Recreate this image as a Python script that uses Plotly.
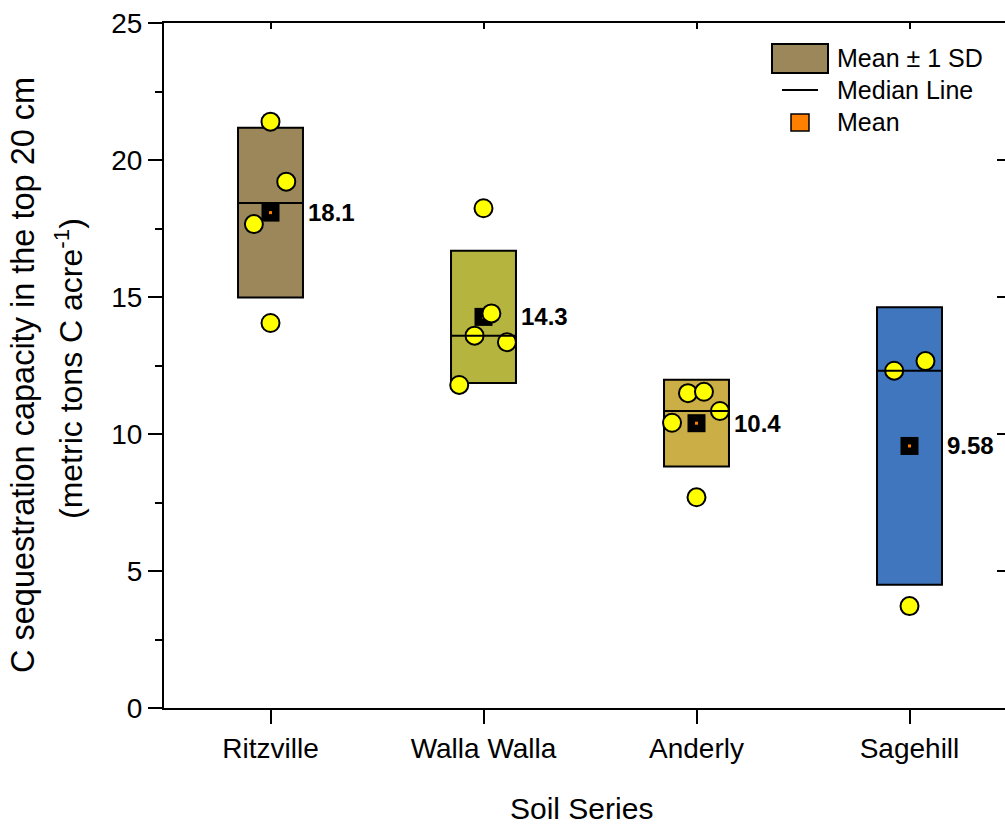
import numpy as np
import plotly.graph_objects as go

# ---------------- data ----------------
categories = ["Ritzville", "Walla Walla", "Anderly", "Sagehill"]
box_colors = ["#9B875A", "#B5B43F", "#CCAE47", "#3F76BE"]

ritzville_vals = [21.40, 19.21, 17.66, 14.05]
ritzville_jit = [0.0, 0.074, -0.078, 0.0]
walla_vals = [18.24, 14.40, 13.59, 13.35, 11.79]
walla_jit = [0.0, 0.037, -0.042, 0.11, -0.114]
anderly_vals = [11.49, 11.54, 10.84, 10.41, 7.69]
anderly_jit = [-0.04, 0.035, 0.11, -0.115, 0.0]
sagehill_vals = [12.31, 12.66, 3.72]
sagehill_jit = [-0.072, 0.075, 0.0]

mean_labels = ["18.1", "14.3", "10.4", "9.58"]

y_ticks = [0, 5, 10, 15, 20, 25]

groups = [ritzville_vals, walla_vals, anderly_vals, sagehill_vals]
jitters = [ritzville_jit, walla_jit, anderly_jit, sagehill_jit]

means = [float(np.mean(g)) for g in groups]
sds = [float(np.std(g, ddof=1)) for g in groups]
medians = [float(np.median(g)) for g in groups]

# ---------------- geometry ----------------
W, H = 1005, 825
L, T, B = 164, 23, 117
plot_w = W - L
plot_h = H - T - B
cat_px = 213.0
x_range = [-0.5, -0.5 + plot_w / cat_px]
half_w = 0.1525
FONT = "Liberation Sans, Arial, sans-serif"

def px_x(px):
    return (px - L) / plot_w

def px_y(py):
    return (H - B - py) / plot_h

fig = go.Figure()

# boxes (mean +/- 1 SD)
fig.add_trace(go.Bar(
    x=list(range(len(categories))),
    y=[2 * s for s in sds],
    base=[m - s for m, s in zip(means, sds)],
    width=2 * half_w,
    marker=dict(color=box_colors, line=dict(color="black", width=2)),
    showlegend=False, hoverinfo="skip",
))

# mean squares
fig.add_trace(go.Scatter(
    x=list(range(len(categories))), y=means, mode="markers",
    marker=dict(symbol="square", size=18, color="black", line=dict(width=0)),
    showlegend=False, hoverinfo="skip",
))
fig.add_trace(go.Scatter(
    x=list(range(len(categories))), y=means, mode="markers",
    marker=dict(symbol="square", size=3, color="#FF7F00", line=dict(width=0)),
    showlegend=False, hoverinfo="skip",
))

# data points
px_all, py_all = [], []
for i, (g, j) in enumerate(zip(groups, jitters)):
    for v, o in zip(g, j):
        px_all.append(i + o)
        py_all.append(v)
fig.add_trace(go.Scatter(
    x=px_all, y=py_all, mode="markers",
    marker=dict(symbol="circle", size=18, color="#FFFF00",
                line=dict(color="black", width=2)),
    showlegend=False, hoverinfo="skip",
))

# median lines
mx, my = [], []
for i, m in enumerate(medians):
    mx += [i - half_w, i + half_w, None]
    my += [m, m, None]
fig.add_trace(go.Scatter(
    x=mx, y=my, mode="lines", line=dict(color="black", width=2),
    showlegend=False, hoverinfo="skip",
))

# invisible trace for the mirror axes
fig.add_trace(go.Scatter(x=[0], y=[0], xaxis="x2", yaxis="y2", mode="markers",
                         marker=dict(opacity=0), showlegend=False, hoverinfo="skip"))

# mean labels
for i, (m, lab) in enumerate(zip(means, mean_labels)):
    fig.add_annotation(x=i + half_w, y=m, text="<b>%s</b>" % lab, showarrow=False,
                       xanchor="left", yanchor="middle", xshift=3,
                       font=dict(family=FONT, size=24, color="black"))

# axis titles
fig.add_annotation(xref="paper", yref="paper", x=0, y=px_y(375), xshift=23 - L,
                   text="C sequestration capacity in the top 20 cm", textangle=-90,
                   showarrow=False, xanchor="center", yanchor="middle",
                   font=dict(family=FONT, size=32.5, color="black"))
fig.add_annotation(xref="paper", yref="paper", x=0, y=px_y(369), xshift=69 - L,
                   text="(metric tons C acre<sup>-1</sup>)", textangle=-90,
                   showarrow=False, xanchor="center", yanchor="middle",
                   font=dict(family=FONT, size=32, color="black"))
fig.add_annotation(xref="paper", yref="paper", x=px_x(581), y=px_y(808),
                   text="Soil Series", showarrow=False, xanchor="center", yanchor="middle",
                   font=dict(family=FONT, size=30, color="black"))

# legend (drawn manually)
fig.add_shape(type="rect", xref="paper", yref="paper",
              x0=px_x(772), x1=px_x(828), y0=px_y(73), y1=px_y(44),
              fillcolor=box_colors[0], line=dict(color="black", width=2))
fig.add_shape(type="line", xref="paper", yref="paper",
              x0=px_x(782), x1=px_x(818), y0=px_y(90), y1=px_y(90),
              line=dict(color="black", width=2))
fig.add_shape(type="rect", xref="paper", yref="paper",
              x0=px_x(791), x1=px_x(809), y0=px_y(131), y1=px_y(114),
              fillcolor="#FF7F00", line=dict(color="black", width=1.5))
for txt, yy in [("Mean ± 1 SD", 58), ("Median Line", 90), ("Mean", 122)]:
    fig.add_annotation(xref="paper", yref="paper", x=px_x(835), y=px_y(yy), text=txt,
                       showarrow=False, xanchor="left", yanchor="middle",
                       font=dict(family=FONT, size=25, color="black"))

fig.update_layout(
    width=W, height=H,
    margin=dict(l=L, r=0, t=T, b=B, pad=0),
    paper_bgcolor="white", plot_bgcolor="white",
    font=dict(family=FONT, size=28, color="black"),
    showlegend=False,
    xaxis=dict(range=x_range, tickmode="array", tickvals=list(range(len(categories))),
               ticktext=categories, showline=True, linecolor="black", linewidth=2,
               ticks="outside", ticklen=14, tickwidth=2, tickcolor="black",
               showgrid=False, zeroline=False, tickfont=dict(size=28)),
    yaxis=dict(range=[0, 25], tickmode="array", tickvals=y_ticks,
               showline=True, linecolor="black", linewidth=2,
               ticks="outside", ticklen=14, tickwidth=2, tickcolor="black",
               minor=dict(ticks="outside", ticklen=7, tickwidth=2, tickcolor="black",
                          tickvals=[2.5, 7.5, 12.5, 17.5, 22.5], showgrid=False),
               showgrid=False, zeroline=False, tickfont=dict(size=28)),
    xaxis2=dict(range=x_range, overlaying="x", side="top", anchor="y",
                tickmode="array", tickvals=list(range(len(categories))),
                showticklabels=False, showline=True, linecolor="black", linewidth=2,
                ticks="inside", ticklen=6, tickwidth=2, tickcolor="black",
                showgrid=False, zeroline=False),
    yaxis2=dict(range=[0, 25], overlaying="y", side="right", anchor="x",
                tickmode="array", tickvals=y_ticks, showticklabels=False,
                showline=False, ticks="inside", ticklen=8, tickwidth=2, tickcolor="black",
                showgrid=False, zeroline=False),
)

fig.write_html("out.html", config={"displayModeBar": False},
               post_script="document.body.style.margin='0';document.body.style.overflow='hidden';")
